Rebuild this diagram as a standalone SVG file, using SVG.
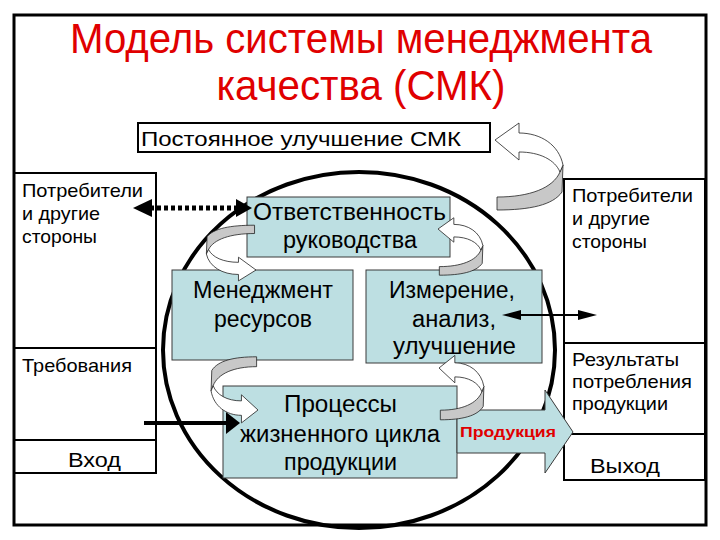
<svg xmlns="http://www.w3.org/2000/svg" xmlns:xlink="http://www.w3.org/1999/xlink" width="720" height="540" viewBox="0 0 720 540">
<style>
text{font-family:"Liberation Sans",Arial,sans-serif;fill:#000;}
.title{font-size:42px;fill:#e00000;text-anchor:middle;}
.side{font-size:19px;}
.box{fill:#bddfe2;stroke:#3a3a3a;stroke-width:1;}
.btxt{font-size:23px;}
.col{fill:none;stroke:#000;stroke-width:2;}
.uw{fill:#fff;stroke:#222;stroke-width:0.8;}
.ug{fill:#c8c8c8;stroke:#222;stroke-width:0.8;}
</style>
<defs>
<g id="uturn">
<path class="ug" vector-effect="non-scaling-stroke" d="M65,32 L68,25 L67,52 C58,65 35,70 2,70 L2,57 C35,57 58,48 65,32 Z"/>
<path class="uw" vector-effect="non-scaling-stroke" d="M24,-17 L0,0 L24,20 L24,12 C45,12 60,20 65,32 L68,25 C64,5 46,-7 24,-7 Z"/>
</g>
</defs>
<rect width="720" height="540" fill="#fff"/>
<g id="frame">
<rect x="14" y="15" width="692" height="510" fill="none" stroke="#000" stroke-width="3"/>
</g>
<g id="title">
<text class="title" x="361" y="53" textLength="582" lengthAdjust="spacingAndGlyphs">Модель системы менеджмента</text>
<text class="title" x="361" y="100" textLength="289" lengthAdjust="spacingAndGlyphs">качества (СМК)</text>
</g>
<g id="improvement">
<rect x="138" y="123" width="352" height="29" fill="#fff" stroke="#000" stroke-width="2"/>
<text x="141" y="146" font-size="20" textLength="320" lengthAdjust="spacingAndGlyphs">Постоянное улучшение СМК</text>
</g>
<g id="left-column">
<rect class="col" x="14" y="173" width="142" height="300"/>
<line class="col" x1="14" y1="348" x2="156" y2="348"/>
<line class="col" x1="14" y1="440" x2="156" y2="440"/>
<text class="side" x="22" y="197" textLength="121" lengthAdjust="spacingAndGlyphs">Потребители</text>
<text class="side" x="22" y="220" textLength="78" lengthAdjust="spacingAndGlyphs">и другие</text>
<text class="side" x="22" y="243" textLength="75" lengthAdjust="spacingAndGlyphs">стороны</text>
<text class="side" x="22" y="372" textLength="110" lengthAdjust="spacingAndGlyphs">Требования</text>
<text x="68" y="467" font-size="21" textLength="53" lengthAdjust="spacingAndGlyphs">Вход</text>
</g>
<g id="right-column">
<rect class="col" x="564" y="179" width="141" height="301"/>
<line class="col" x1="564" y1="343" x2="705" y2="343"/>
<line class="col" x1="564" y1="434" x2="705" y2="434"/>
<text class="side" x="572" y="202" textLength="121" lengthAdjust="spacingAndGlyphs">Потребители</text>
<text class="side" x="572" y="225" textLength="78" lengthAdjust="spacingAndGlyphs">и другие</text>
<text class="side" x="572" y="248" textLength="75" lengthAdjust="spacingAndGlyphs">стороны</text>
<text class="side" x="572" y="366" textLength="107" lengthAdjust="spacingAndGlyphs">Результаты</text>
<text class="side" x="572" y="388" textLength="120" lengthAdjust="spacingAndGlyphs">потребления</text>
<text class="side" x="572" y="410" textLength="96" lengthAdjust="spacingAndGlyphs">продукции</text>
<text x="590" y="473" font-size="21" textLength="70" lengthAdjust="spacingAndGlyphs">Выход</text>
</g>
<g id="system-circle">
<ellipse cx="359" cy="350" rx="196" ry="178" fill="none" stroke="#000" stroke-width="4"/>
</g>
<g id="responsibility">
<rect class="box" x="247" y="197" width="203" height="60"/>
<text class="btxt" x="253" y="220" textLength="193" lengthAdjust="spacingAndGlyphs">Ответственность</text>
<text class="btxt" x="283" y="248" textLength="134" lengthAdjust="spacingAndGlyphs">руководства</text>
</g>
<g id="resources">
<rect class="box" x="172" y="270" width="181" height="90"/>
<text class="btxt" x="193" y="298" textLength="140" lengthAdjust="spacingAndGlyphs">Менеджмент</text>
<text class="btxt" x="214" y="327" textLength="98" lengthAdjust="spacingAndGlyphs">ресурсов</text>
</g>
<g id="measurement">
<rect class="box" x="366" y="270" width="176" height="93"/>
<text class="btxt" x="389" y="298" textLength="126" lengthAdjust="spacingAndGlyphs">Измерение,</text>
<text class="btxt" x="412" y="327" textLength="84" lengthAdjust="spacingAndGlyphs">анализ,</text>
<text class="btxt" x="393" y="354" textLength="123" lengthAdjust="spacingAndGlyphs">улучшение</text>
</g>
<g id="processes">
<rect class="box" x="223" y="386" width="234" height="92"/>
<text class="btxt" x="284" y="412" textLength="113" lengthAdjust="spacingAndGlyphs">Процессы</text>
<text class="btxt" x="240" y="442" textLength="200" lengthAdjust="spacingAndGlyphs">жизненного цикла</text>
<text class="btxt" x="284" y="470" textLength="113" lengthAdjust="spacingAndGlyphs">продукции</text>
</g>
<g id="connectors">
<g id="product-arrow">
<path d="M457,410 L545,410 L545,390 L573,432 L545,473 L545,453 L457,453 Z" fill="#bddfe2" stroke="#3a3a3a" stroke-width="1"/>
<text x="460" y="437" font-size="14" font-weight="bold" fill="#e00000" style="fill:#e00000" textLength="96" lengthAdjust="spacingAndGlyphs">Продукция</text>
</g>
<g id="dotted-arrow">
<line x1="150" y1="208" x2="240" y2="208" stroke="#000" stroke-width="5" stroke-dasharray="4 3"/>
<polygon points="133,208 152,199 152,217" fill="#000"/>
<polygon points="252,208 236,199 236,217" fill="#000"/>
</g>
<g id="input-arrow">
<line x1="144" y1="423" x2="229" y2="423" stroke="#000" stroke-width="4"/>
<polygon points="240,423 226,412 226,434" fill="#000"/>
</g>
<g id="feedback-arrow">
<line x1="515" y1="315" x2="585" y2="315" stroke="#000" stroke-width="2"/>
<polygon points="502,315 521,310 521,320" fill="#000"/>
<polygon points="597,315 578,310 578,320" fill="#000"/>
</g>
<use xlink:href="#uturn" href="#uturn" transform="translate(495,140)"/>
<use xlink:href="#uturn" href="#uturn" transform="translate(438,229) scale(0.66,0.66)"/>
<use xlink:href="#uturn" href="#uturn" transform="translate(439,368) scale(0.66,0.74)"/>
<use xlink:href="#uturn" href="#uturn" transform="translate(256,270) rotate(180) scale(0.73,0.64)"/>
<use xlink:href="#uturn" href="#uturn" transform="translate(258,410) rotate(180) scale(0.69,0.76)"/>
</g>
</svg>
